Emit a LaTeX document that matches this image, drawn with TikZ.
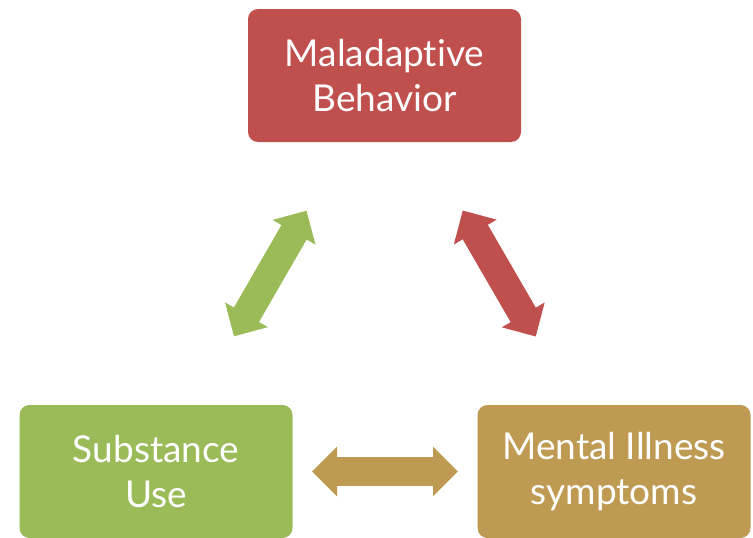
\documentclass[tikz,border=0pt]{standalone}
\usepackage{fontspec}
\setmainfont{Lato}[Ligatures={NoCommon}]
\usepackage{xcolor}
\usepackage{tikz}
\usetikzlibrary{
  arrows.meta,
  positioning,
  calc
}

\definecolor{malred}{HTML}{C0504D}
\definecolor{subgreen}{HTML}{9BBB59}
\definecolor{mentan}{HTML}{BF9A52}

\begin{document}
\begin{tikzpicture}[x=1pt, y=-1pt,
  box/.style={rounded corners=10pt, minimum width=273pt, minimum height=133pt,
    align=center, text=white, inner sep=0pt,
    font=\fontsize{37}{45}\selectfont},
  link/.style={line width=29pt,
    {Triangle[length=25pt,width=48pt]}-{Triangle[length=25pt,width=48pt]},
    shorten <=156pt, shorten >=156pt}]
\useasboundingbox (0,0) rectangle (753,538);

% the three boxes
\node[box, fill=malred] (mal) at (384.5,75.5) {Maladaptive\\Behavior};
\node[box, fill=subgreen] (sub) at (156,471.5) {Substance\\Use};
\node[box, fill=mentan] (men) at (614,471.5) {Mental Illness\\symptoms};

% two-way arrows between them
\draw[link, subgreen] (sub.center) -- (mal.center);
\draw[link, malred] (mal.center) -- (men.center);
\draw[link, mentan] (sub.center) -- (men.center);
\end{tikzpicture}
\end{document}
